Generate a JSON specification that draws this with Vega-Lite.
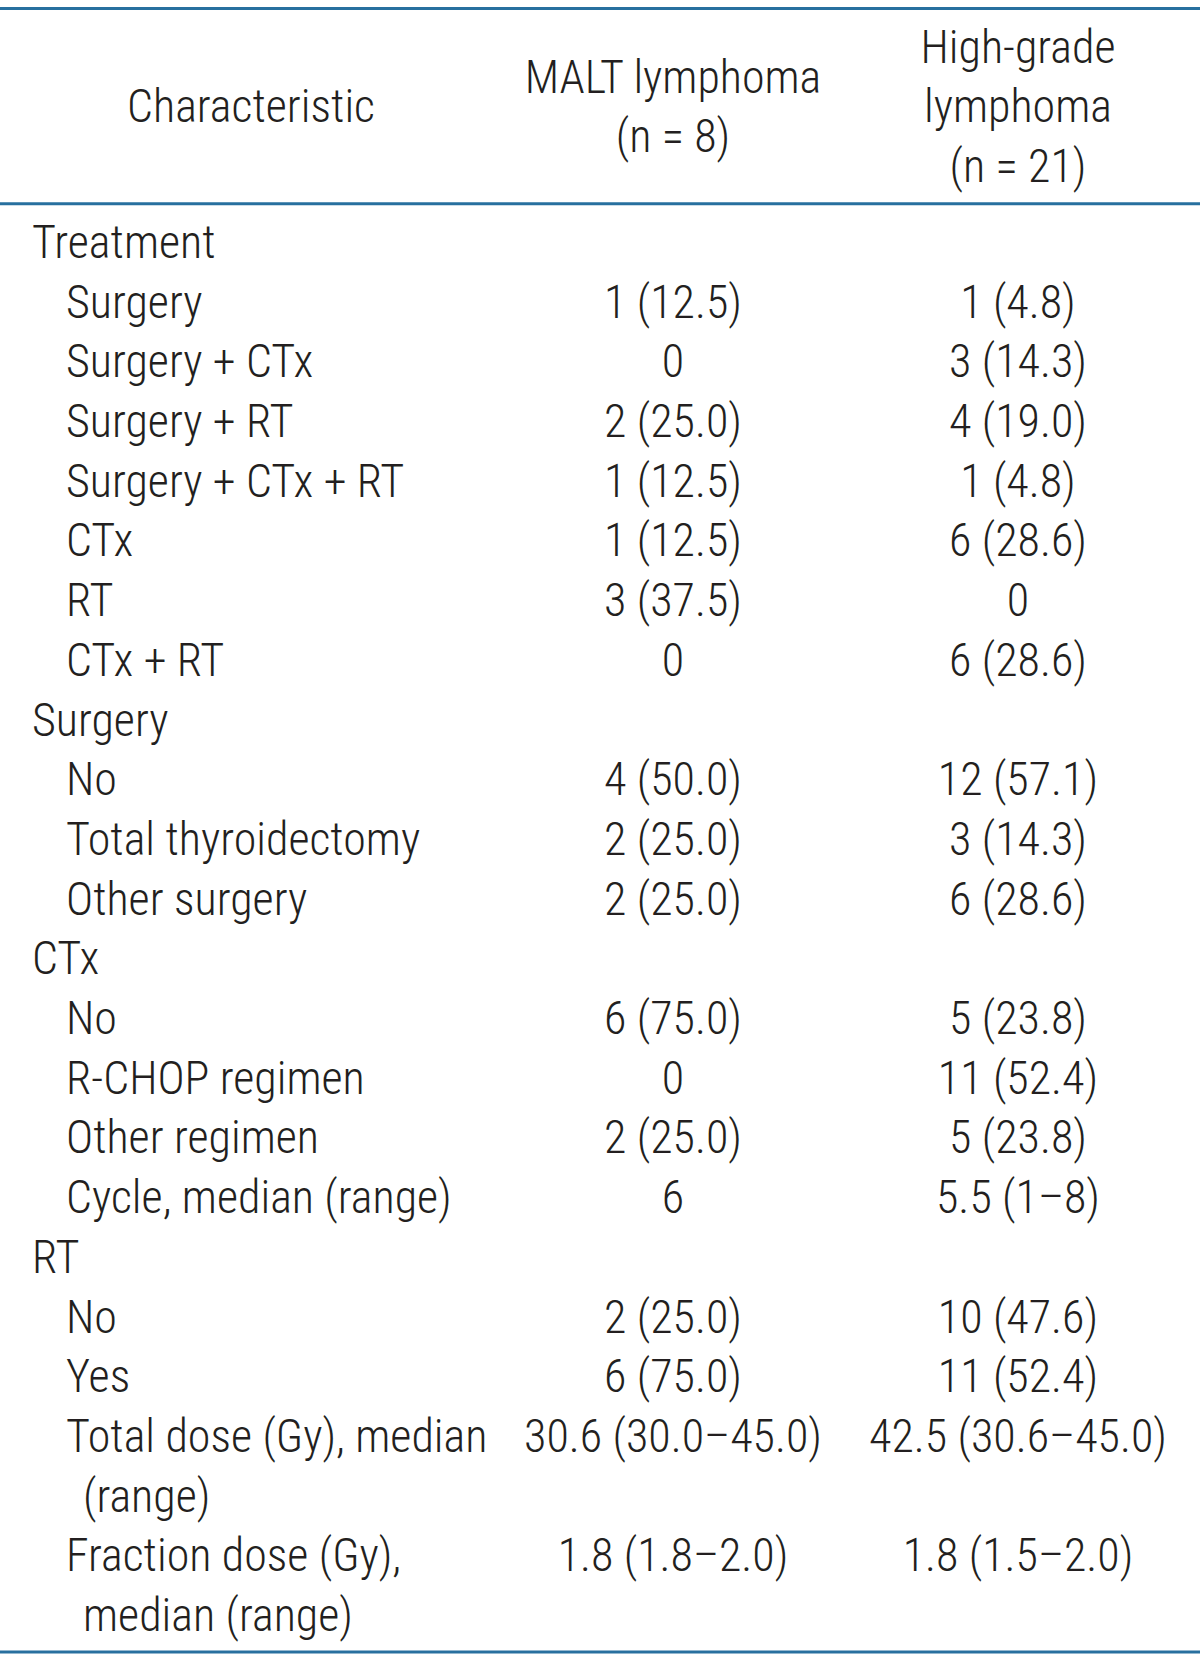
{
  "$schema": "https://vega.github.io/schema/vega-lite/v6.json",
  "width": 1200,
  "height": 1662,
  "autosize": {"type": "none"},
  "padding": 0,
  "background": "white",
  "config": {"view": {"stroke": null}, "text": {"font": "Roboto Condensed, Noto Sans Condensed, Open Sans Condensed, DejaVu Sans Condensed, sans-serif", "fontSize": 46, "fontWeight": 300, "color": "#231f20"}},
  "datasets": {
    "labels": [
      {"row": 0, "level": 0, "column": "Characteristic", "label": "Treatment"},
      {"row": 1, "level": 1, "column": "Characteristic", "label": "Surgery"},
      {"row": 2, "level": 1, "column": "Characteristic", "label": "Surgery + CTx"},
      {"row": 3, "level": 1, "column": "Characteristic", "label": "Surgery + RT"},
      {"row": 4, "level": 1, "column": "Characteristic", "label": "Surgery + CTx + RT"},
      {"row": 5, "level": 1, "column": "Characteristic", "label": "CTx"},
      {"row": 6, "level": 1, "column": "Characteristic", "label": "RT"},
      {"row": 7, "level": 1, "column": "Characteristic", "label": "CTx + RT"},
      {"row": 8, "level": 0, "column": "Characteristic", "label": "Surgery"},
      {"row": 9, "level": 1, "column": "Characteristic", "label": "No"},
      {"row": 10, "level": 1, "column": "Characteristic", "label": "Total thyroidectomy"},
      {"row": 11, "level": 1, "column": "Characteristic", "label": "Other surgery"},
      {"row": 12, "level": 0, "column": "Characteristic", "label": "CTx"},
      {"row": 13, "level": 1, "column": "Characteristic", "label": "No"},
      {"row": 14, "level": 1, "column": "Characteristic", "label": "R-CHOP regimen"},
      {"row": 15, "level": 1, "column": "Characteristic", "label": "Other regimen"},
      {"row": 16, "level": 1, "column": "Characteristic", "label": "Cycle, median (range)"},
      {"row": 17, "level": 0, "column": "Characteristic", "label": "RT"},
      {"row": 18, "level": 1, "column": "Characteristic", "label": "No"},
      {"row": 19, "level": 1, "column": "Characteristic", "label": "Yes"},
      {"row": 20, "level": 1, "column": "Characteristic", "label": "Total dose (Gy), median"},
      {"row": 21, "level": 2, "column": "Characteristic", "label": "(range)"},
      {"row": 22, "level": 1, "column": "Characteristic", "label": "Fraction dose (Gy),"},
      {"row": 23, "level": 2, "column": "Characteristic", "label": "median (range)"}
    ],
    "cells": [
      {"row": 1, "column": "MALT", "value": "1 (12.5)"},
      {"row": 2, "column": "MALT", "value": "0"},
      {"row": 3, "column": "MALT", "value": "2 (25.0)"},
      {"row": 4, "column": "MALT", "value": "1 (12.5)"},
      {"row": 5, "column": "MALT", "value": "1 (12.5)"},
      {"row": 6, "column": "MALT", "value": "3 (37.5)"},
      {"row": 7, "column": "MALT", "value": "0"},
      {"row": 9, "column": "MALT", "value": "4 (50.0)"},
      {"row": 10, "column": "MALT", "value": "2 (25.0)"},
      {"row": 11, "column": "MALT", "value": "2 (25.0)"},
      {"row": 13, "column": "MALT", "value": "6 (75.0)"},
      {"row": 14, "column": "MALT", "value": "0"},
      {"row": 15, "column": "MALT", "value": "2 (25.0)"},
      {"row": 16, "column": "MALT", "value": "6"},
      {"row": 18, "column": "MALT", "value": "2 (25.0)"},
      {"row": 19, "column": "MALT", "value": "6 (75.0)"},
      {"row": 20, "column": "MALT", "value": "30.6 (30.0–45.0)"},
      {"row": 22, "column": "MALT", "value": "1.8 (1.8–2.0)"},
      {"row": 1, "column": "High", "value": "1 (4.8)"},
      {"row": 2, "column": "High", "value": "3 (14.3)"},
      {"row": 3, "column": "High", "value": "4 (19.0)"},
      {"row": 4, "column": "High", "value": "1 (4.8)"},
      {"row": 5, "column": "High", "value": "6 (28.6)"},
      {"row": 6, "column": "High", "value": "0"},
      {"row": 7, "column": "High", "value": "6 (28.6)"},
      {"row": 9, "column": "High", "value": "12 (57.1)"},
      {"row": 10, "column": "High", "value": "3 (14.3)"},
      {"row": 11, "column": "High", "value": "6 (28.6)"},
      {"row": 13, "column": "High", "value": "5 (23.8)"},
      {"row": 14, "column": "High", "value": "11 (52.4)"},
      {"row": 15, "column": "High", "value": "5 (23.8)"},
      {"row": 16, "column": "High", "value": "5.5 (1–8)"},
      {"row": 18, "column": "High", "value": "10 (47.6)"},
      {"row": 19, "column": "High", "value": "11 (52.4)"},
      {"row": 20, "column": "High", "value": "42.5 (30.6–45.0)"},
      {"row": 22, "column": "High", "value": "1.8 (1.5–2.0)"}
    ],
    "header": [
      {"column": "Characteristic", "text": "Characteristic", "row": -2.27},
      {"column": "MALT", "text": "MALT lymphoma", "row": -2.77},
      {"column": "MALT", "text": "(n = 8)", "row": -1.77},
      {"column": "High", "text": "High-grade", "row": -3.27},
      {"column": "High", "text": "lymphoma", "row": -2.27},
      {"column": "High", "text": "(n = 21)", "row": -1.27}
    ],
    "rules": [
      {"row": -4.18},
      {"row": -0.91},
      {"row": 23.35}
    ]
  },
  "layer": [
    {
      "data": {"name": "rules"},
      "mark": {"type": "rule", "color": "#28709f", "strokeWidth": 3},
      "encoding": {
        "y": {"field": "row", "type": "quantitative", "scale": {"domain": [-4.3216, 23.518], "reverse": true, "nice": false, "zero": false}, "axis": null}
      }
    },
    {
      "data": {"name": "header"},
      "transform": [{"filter": "datum.column === 'Characteristic'"}],
      "mark": {"type": "text", "align": "center", "baseline": "alphabetic", "dx": -77},
      "encoding": {
        "x": {"field": "column", "type": "nominal", "scale": {"type": "point", "domain": ["Characteristic", "MALT", "High"], "range": [328, 1018], "padding": 0}, "axis": null},
        "y": {"field": "row", "type": "quantitative", "axis": null},
        "text": {"field": "text"}
      }
    },
    {
      "data": {"name": "header"},
      "transform": [{"filter": "datum.column !== 'Characteristic'"}],
      "mark": {"type": "text", "align": "center", "baseline": "alphabetic"},
      "encoding": {
        "x": {"field": "column", "type": "nominal", "axis": null},
        "y": {"field": "row", "type": "quantitative", "axis": null},
        "text": {"field": "text"}
      }
    },
    {
      "data": {"name": "labels"},
      "transform": [{"filter": "datum.level === 0"}],
      "mark": {"type": "text", "align": "left", "baseline": "alphabetic", "dx": -296},
      "encoding": {
        "x": {"field": "column", "type": "nominal", "axis": null},
        "y": {"field": "row", "type": "quantitative", "axis": null},
        "text": {"field": "label"}
      }
    },
    {
      "data": {"name": "labels"},
      "transform": [{"filter": "datum.level === 1"}],
      "mark": {"type": "text", "align": "left", "baseline": "alphabetic", "dx": -262},
      "encoding": {
        "x": {"field": "column", "type": "nominal", "axis": null},
        "y": {"field": "row", "type": "quantitative", "axis": null},
        "text": {"field": "label"}
      }
    },
    {
      "data": {"name": "labels"},
      "transform": [{"filter": "datum.level === 2"}],
      "mark": {"type": "text", "align": "left", "baseline": "alphabetic", "dx": -245},
      "encoding": {
        "x": {"field": "column", "type": "nominal", "axis": null},
        "y": {"field": "row", "type": "quantitative", "axis": null},
        "text": {"field": "label"}
      }
    },
    {
      "data": {"name": "cells"},
      "mark": {"type": "text", "align": "center", "baseline": "alphabetic"},
      "encoding": {
        "x": {"field": "column", "type": "nominal", "axis": null},
        "y": {"field": "row", "type": "quantitative", "axis": null},
        "text": {"field": "value"}
      }
    }
  ]
}
